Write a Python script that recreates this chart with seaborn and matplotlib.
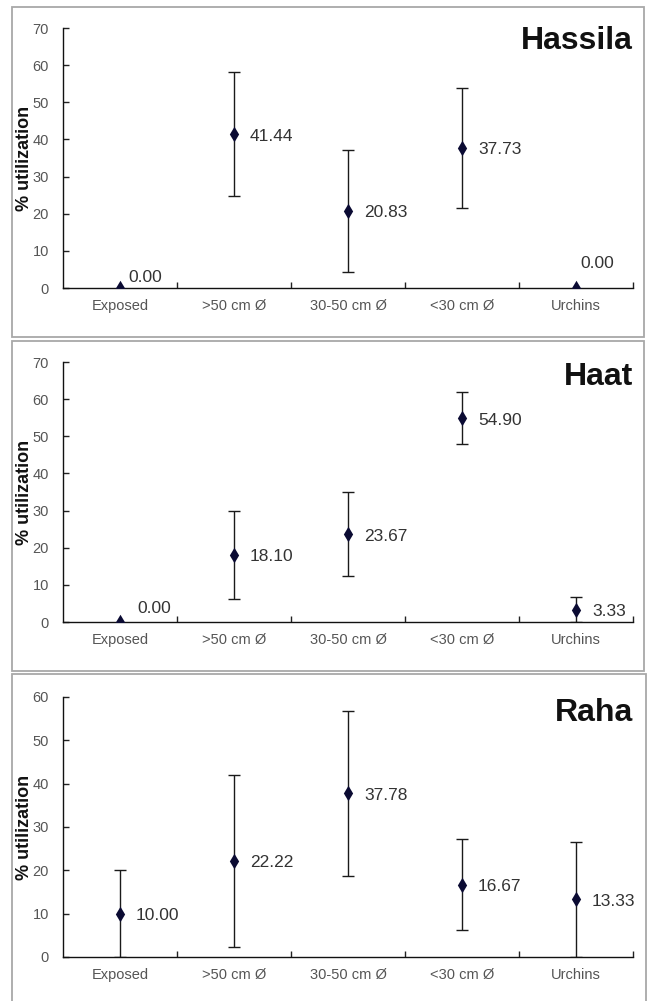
# Three-panel % utilization chart (Hassila, Haat, Raha)
import matplotlib
matplotlib.use("Agg")
import matplotlib.pyplot as plt
from matplotlib.patches import Rectangle
import seaborn as sns

# data
categories = ["Exposed", ">50 cm Ø", "30-50 cm Ø", "<30 cm Ø", "Urchins"]

hassila_mean = [0.00, 41.44, 20.83, 37.73, 0.00]
hassila_err = [0.0, 16.6, 16.4, 16.2, 0.0]

haat_mean = [0.00, 18.10, 23.67, 54.90, 3.33]
haat_err = [0.0, 11.8, 11.2, 6.9, 3.3]

raha_mean = [10.00, 22.22, 37.78, 16.67, 13.33]
raha_err = [10.0, 19.8, 19.1, 10.5, 13.3]

sites = ["Hassila", "Haat", "Raha"]
means = [hassila_mean, haat_mean, raha_mean]
errs = [hassila_err, haat_err, raha_err]
ymax = [70, 70, 60]

sns.set_style("ticks")
plt.rcParams["font.family"] = ["Liberation Sans", "DejaVu Sans"]

W, H = 651, 1001
fig = plt.figure(figsize=(W / 100, H / 100), dpi=100)

# panel frames and axes boxes in pixels (left, top, right, bottom)
frames = [(12, 7, 644, 337), (12, 341, 644, 671), (12, 674, 646, 1004)]
axes_px = [(63, 28, 633, 288), (63, 362, 633, 622), (63, 697, 633, 957)]
title_y = [0.919, 0.912, 0.908]

# label offsets in pixels (dx, dy, va) -- default is to the right of the point
special = {
    (0, 0): (8, 6, "baseline"),
    (0, 4): (4, 20, "baseline"),
    (1, 0): (17, 9, "baseline"),
}

for i, site in enumerate(sites):
    l, t, r, b = frames[i]
    fig.patches.append(Rectangle((l / W, 1 - b / H), (r - l) / W, (b - t) / H,
                                 transform=fig.transFigure, fill=False,
                                 edgecolor="#a8a8a8", linewidth=1.3))
    al, at, ar, ab = axes_px[i]
    ax = fig.add_axes([al / W, 1 - ab / H, (ar - al) / W, (ab - at) / H])

    # error bars first, then diamonds on top
    xs = [k for k in range(len(categories)) if errs[i][k] > 0]
    ax.errorbar(xs, [means[i][k] for k in xs], yerr=[errs[i][k] for k in xs],
                fmt="none", ecolor="#1a1a1a", elinewidth=1.0, capsize=4,
                capthick=1.0, zorder=2)
    sns.pointplot(x=categories, y=means[i], order=categories, ax=ax,
                  linestyle="none", markers="d", color="#0b0b33",
                  errorbar=None, markersize=5.5, zorder=3)

    for k, v in enumerate(means[i]):
        dx, dy, va = special.get((i, k), (16, -2, "center"))
        ax.annotate(f"{v:.2f}", (k, v), xytext=(dx, dy),
                    textcoords="offset pixels", ha="left", va=va,
                    fontsize=12.5, color="#333333")

    ax.set_xlim(-0.5, len(categories) - 0.5)
    ax.set_ylim(0, ymax[i])
    ax.set_yticks(range(0, ymax[i] + 1, 10))
    ax.set_xticks(range(len(categories)))
    ax.set_xticklabels(categories)
    ax.set_xticks([k + 0.5 for k in range(len(categories))], minor=True)
    ax.tick_params(axis="x", which="major", length=0, pad=8,
                   labelsize=10.5, labelcolor="#555555")
    ax.tick_params(axis="x", which="minor", direction="in", length=4,
                   width=1, color="#222222")
    ax.tick_params(axis="y", direction="in", length=4, width=1,
                   color="#222222", pad=10, labelsize=10.5,
                   labelcolor="#555555")
    ax.set_xlabel("")
    ax.set_ylabel("% utilization", fontsize=13, fontweight="bold",
                  color="#111111")
    ax.yaxis.set_label_coords(-0.053, 0.5)
    sns.despine(ax=ax)
    for s in ["left", "bottom"]:
        ax.spines[s].set_color("#111111")
        ax.spines[s].set_linewidth(1.0)

    ax.text(1.0, title_y[i], site, transform=ax.transAxes, ha="right",
            va="baseline", fontsize=23, fontweight="bold", color="#111111")

fig.savefig("out.png", dpi=100)
